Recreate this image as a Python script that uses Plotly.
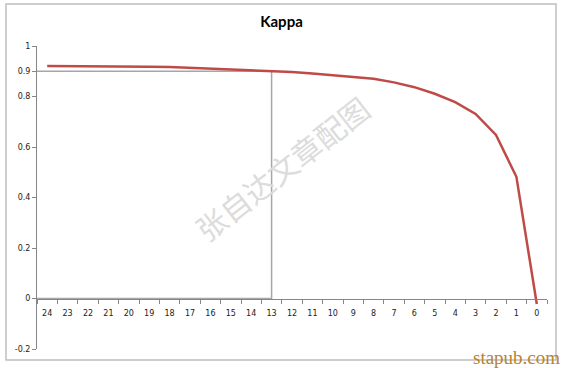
import plotly.graph_objects as go

# ---- data ----
x_labels = [str(v) for v in range(24, -1, -1)]  # 24 ... 0
kappa = [0.921, 0.921, 0.921, 0.921, 0.921, 0.918, 0.917, 0.914, 0.911, 0.909,
         0.905, 0.901, 0.897, 0.891, 0.885, 0.878, 0.870, 0.856, 0.837, 0.811,
         0.778, 0.731, 0.648, 0.482, -0.022]
cutoff_label = "13"
cutoff_kappa = 0.9
y_ticks = [-0.2, 0, 0.2, 0.4, 0.6, 0.8, 0.9, 1]
y_ticktext = ["-0.2", "0", "0.2", "0.4", "0.6", "0.8", "0.9", "1"]
title_text = "Kappa"
watermark = "张自达文章配图"
site = "stapub.com"

idx = list(range(len(x_labels)))
ci = x_labels.index(cutoff_label)

# plot area in pixels
L, R, T, B = 37, 547, 46, 349
W, H = R - L, B - T


def px(x):
    return (x - L) / W


def py(y):
    return (B - y) / H


fig = go.Figure()
# reference box (gray)
fig.add_trace(go.Scatter(
    x=[-0.5, ci, ci, -0.5], y=[cutoff_kappa, cutoff_kappa, 0, 0],
    mode="lines", line=dict(color="#a6a6a6", width=1.5),
    hoverinfo="skip", showlegend=False, cliponaxis=False))
# kappa line
fig.add_trace(go.Scatter(
    x=idx, y=kappa, mode="lines",
    line=dict(color="#be4b48", width=2.5),
    showlegend=False, cliponaxis=False))

fig.update_layout(
    width=563, height=368,
    margin=dict(l=L, r=563 - R, t=T, b=368 - B, autoexpand=False),
    paper_bgcolor="white", plot_bgcolor="white",
    title=dict(text="<b>" + title_text + "</b>", x=0.5, xanchor="center",
               y=1 - 22 / 368, yanchor="middle",
               font=dict(family="Lato, Open Sans, sans-serif", size=15, color="black")),
    font=dict(family="DejaVu Sans, sans-serif", size=8, color="#222"),
    xaxis=dict(
        range=[-0.5, 24.5], tickmode="array", tickvals=idx, ticktext=x_labels,
        ticks="", showgrid=False, zeroline=False, automargin=False,
        showline=True, linecolor="#868686", linewidth=1,
        anchor="free", position=1/6, ticklabelstandoff=7,
        tickfont=dict(family="DejaVu Sans, sans-serif", size=8, color="#222"),
        minor=dict(tick0=-0.5, dtick=1, ticks="outside", ticklen=4,
                   tickcolor="#868686", showgrid=False),
    ),
    yaxis=dict(
        range=[-0.2, 1], tickmode="array", tickvals=y_ticks, ticktext=y_ticktext,
        ticks="outside", ticklen=4, tickcolor="#868686", automargin=False,
        showgrid=False, zeroline=False,
        showline=True, linecolor="#868686", linewidth=1,
        tickfont=dict(family="DejaVu Sans, sans-serif", size=8, color="#222"),
    ),
)

# chart-area frame
fig.add_shape(type="rect", xref="paper", yref="paper",
              x0=px(6), x1=px(556), y0=py(360), y1=py(4),
              line=dict(color="#bfbfbf", width=1.5), layer="below")

# watermark
fig.add_annotation(text=watermark, xref="paper", yref="paper",
                   x=px(282), y=py(168),
                   showarrow=False, textangle=-38,
                   font=dict(family="Noto Sans CJK SC", size=30, color="#dcdcdc"))
# site label
fig.add_annotation(text=site, xref="paper", yref="paper",
                   x=px(562), y=py(357),
                   xanchor="right", yanchor="middle", showarrow=False,
                   font=dict(family="Liberation Serif, serif", size=19, color="#b8832e"))

fig.write_html("out.html", config={"displayModeBar": False},
               post_script="document.body.style.margin='0';document.body.style.overflow='hidden';")
